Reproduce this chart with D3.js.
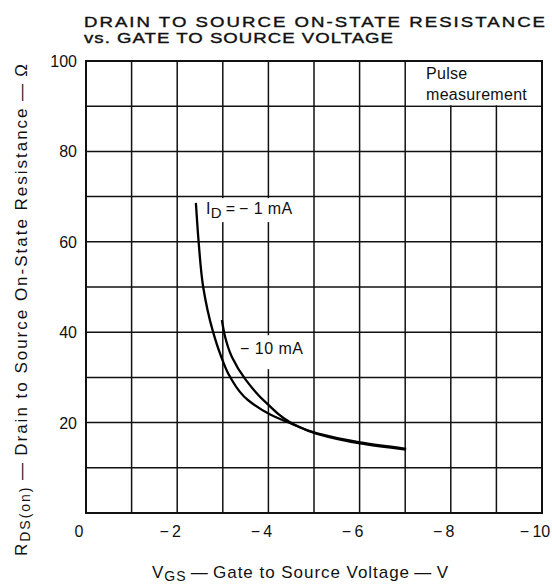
<!DOCTYPE html>
<meta charset="utf-8">
<style>
  body { margin: 0; background: #fff; }
  text { font-family: "Liberation Sans", Arial, Helvetica, sans-serif; fill: #111; }
  .grid line { stroke: #111; stroke-width: 1.5; }
  .curve { fill: none; stroke: #000; stroke-width: 2.3; }
</style>
<svg width="552" height="585"></svg>
<script src="https://cdn.jsdelivr.net/npm/d3@7"></script>
<script>

  // values
  var xTickLabels = [0, -2, -4, -6, -8, -10];
  var yTickLabels = [20, 40, 60, 80, 100];

  // I_D = -1 mA
  var vgs1 = [-2.41, -2.47, -2.57, -2.78, -2.95, -3.16, -3.55, -4.04, -4.47, -5.07, -6.01, -7.02];
  var rds1 = [68.6, 60.0, 50.0, 40.3, 35.0, 30.1, 25.0, 21.8, 19.9, 17.6, 15.6, 14.2];

  // I_D = -10 mA
  var vgs10 = [-2.98, -3.05, -3.20, -3.50, -3.96, -4.60, -5.07, -6.01, -7.02];
  var rds10 = [42.7, 39.0, 34.5, 29.5, 24.3, 19.4, 17.5, 15.4, 14.0];

  var svg = d3.select("svg"),
      margin = {top: 61, right: 10, bottom: 72, left: 86},
      width = +svg.attr("width") - margin.left - margin.right,
      height = +svg.attr("height") - margin.top - margin.bottom;

  var x = d3.scaleLinear().domain([0, -10]).range([0, width]),
      y = d3.scaleLinear().domain([0, 100]).range([height, 0]);

  var g = svg.append("g")
    .attr("transform", "translate(" + margin.left + "," + margin.top + ")");

  // title (wide lettering)
  var sx = 1.2;
  svg.append("text")
    .attr("transform", "translate(84,26.5) scale(" + sx + ",1)")
    .attr("textLength", 461 / sx).attr("lengthAdjust", "spacing")
    .style("font-size", "15.5px").style("stroke", "#111").style("stroke-width", 0.4)
    .text("DRAIN TO SOURCE ON-STATE RESISTANCE");
  svg.append("text")
    .attr("transform", "translate(84,42.5) scale(" + sx + ",1)")
    .attr("textLength", 309 / sx).attr("lengthAdjust", "spacing")
    .style("font-size", "15.5px").style("stroke", "#111").style("stroke-width", 0.4)
    .text("vs. GATE TO SOURCE VOLTAGE");

  // grid
  var grid = g.append("g").attr("class", "grid");
  grid.selectAll(".gx")
    .data(x.ticks(10))
    .enter().append("line")
    .attr("x1", function(d) { return x(d); })
    .attr("x2", function(d) { return x(d); })
    .attr("y1", 0).attr("y2", height);
  grid.selectAll(".gy")
    .data(y.ticks(10))
    .enter().append("line")
    .attr("x1", 0).attr("x2", width)
    .attr("y1", function(d) { return y(d); })
    .attr("y2", function(d) { return y(d); });

  // white patches behind the notes
  g.append("rect")   // pulse measurement box
    .attr("x", x(-7) + 1).attr("y", 0)
    .attr("width", width - x(-7) - 1).attr("height", y(90) - 1)
    .style("fill", "#fff");
  g.append("rect")   // I_D = -1 mA
    .attr("x", x(-2.6)).attr("y", y(70) + 1.5)
    .attr("width", 96).attr("height", 24)
    .style("fill", "#fff");
  g.append("rect")   // -10 mA
    .attr("x", x(-3.3)).attr("y", y(40) + 3)
    .attr("width", 68).attr("height", 34)
    .style("fill", "#fff");

  // frame
  g.append("rect")
    .attr("width", width).attr("height", height)
    .style("fill", "none").style("stroke", "#111").style("stroke-width", 2);

  // curves
  var line = d3.line()
    .x(function(d) { return x(d[0]); })
    .y(function(d) { return y(d[1]); })
    .curve(d3.curveMonotoneY);

  g.append("path")
    .attr("class", "curve")
    .attr("d", line(d3.zip(vgs1, rds1)));
  g.append("path")
    .attr("class", "curve")
    .attr("d", line(d3.zip(vgs10, rds10)));

  // tick labels
  g.selectAll(".ylab")
    .data(yTickLabels)
    .enter().append("text")
    .attr("x", -9)
    .attr("y", function(d) { return y(d); })
    .attr("dy", "0.38em")
    .attr("text-anchor", "end")
    .style("font-size", "16px")
    .text(function(d) { return d; });

  g.selectAll(".xlab")
    .data(xTickLabels)
    .enter().append("text")
    .attr("x", function(d) { return x(d) - 7; })
    .attr("y", height + 24)
    .attr("text-anchor", "middle")
    .style("font-size", "16px")
    .text(function(d) { return d === 0 ? "0" : "\u2212\u2009" + Math.abs(d); });

  // notes inside the plot
  var pulse = svg.append("text").style("font-size", "16px").style("letter-spacing", "0.3px");
  pulse.append("tspan").attr("x", 426).attr("y", 79).text("Pulse");
  pulse.append("tspan").attr("x", 426).attr("y", 100).text("measurement");

  var id1 = svg.append("text")
    .attr("x", 206).attr("y", 214)
    .style("font-size", "16px").style("letter-spacing", "0.4px");
  id1.append("tspan").text("I");
  id1.append("tspan").attr("dy", 4).style("font-size", "15px").text("D");
  id1.append("tspan").attr("dy", -4).text("\u2009=\u2009\u2212 1 mA");

  svg.append("text")
    .attr("x", 240).attr("y", 354)
    .style("font-size", "16px").style("letter-spacing", "0.5px")
    .text("\u2212 10 mA");

  // axis titles
  var xt = svg.append("text")
    .attr("x", 152).attr("y", 578)
    .attr("textLength", 296).attr("lengthAdjust", "spacing")
    .style("font-size", "17px");
  xt.append("tspan").text("V");
  xt.append("tspan").attr("dy", 3).style("font-size", "14px").text("GS");
  xt.append("tspan").attr("dy", -3).text("\u2009\u2014\u2009Gate to Source Voltage\u2009\u2014\u2009V");

  var yt = svg.append("text")
    .attr("transform", "translate(27,556) rotate(-90)")
    .attr("textLength", 492).attr("lengthAdjust", "spacing")
    .style("font-size", "17px");
  yt.append("tspan").text("R");
  yt.append("tspan").attr("dy", 3).style("font-size", "14px").text("DS(on)");
  yt.append("tspan").attr("dy", -3).text("\u2009\u2014\u2009Drain to Source On-State Resistance\u2009\u2014\u2009\u03a9");

</script>
